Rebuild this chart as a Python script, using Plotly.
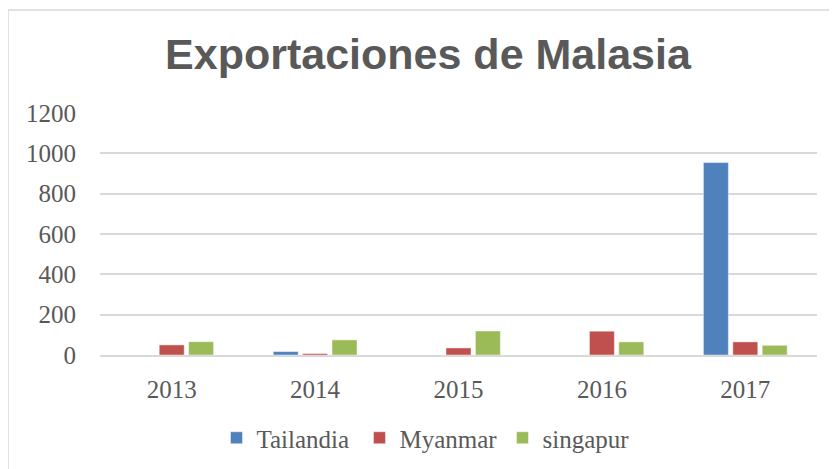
import plotly.graph_objects as go

years = ["2013", "2014", "2015", "2016", "2017"]
tailandia = [0, 17, 0, 0, 954]
myanmar = [50, 7, 35, 118, 65]
singapur = [66, 75, 119, 65, 48]
series_names = ["Tailandia", "Myanmar", "singapur"]
colors = ["#4F81BD", "#C0504D", "#9BBB59"]
y_ticks = [0, 200, 400, 600, 800, 1000, 1200]

# The page body has an 8px default margin, so the figure is drawn 8px smaller
# and all target page positions are shifted by OFF.
OFF = 8
W, H = 837 - OFF, 469 - OFF
L, R, T, B = 100 - OFF, 20, 113 - OFF, 469 - 355
text_color = "#595959"
serif = "Liberation Serif, Times New Roman, serif"

fig = go.Figure()
for name, vals, col in zip(series_names, [tailandia, myanmar, singapur], colors):
    fig.add_trace(go.Bar(
        x=years, y=vals, name=name,
        marker=dict(color=col, line=dict(color="rgba(255,255,255,0.45)", width=1)),
    ))

plot_w = W - L - R
plot_h = H - T - B
base_y = T + plot_h  # fig-pixel y of the zero line

fig.update_layout(
    width=W, height=H,
    margin=dict(l=L, r=R, t=T, b=B, autoexpand=False),
    paper_bgcolor="white", plot_bgcolor="white",
    barmode="group", bargap=0.385, bargroupgap=0.15,
    title=dict(
        text="<b>Exportaciones de Malasia</b>",
        font=dict(family="Liberation Sans, Arial, sans-serif", size=43, color=text_color),
        x=(428 - OFF) / W, xanchor="center", xref="container",
        y=1 - (54 - OFF) / H, yanchor="middle", yref="container",
    ),
    font=dict(family=serif, size=25, color=text_color),
    showlegend=True,
    legend=dict(
        orientation="h", x=(228 - 100) / plot_w - 0.03 + 10 / plot_w, xanchor="left",
        y=(base_y - (438 - OFF)) / plot_h, yanchor="middle",
        font=dict(family=serif, size=25, color=text_color),
        bgcolor="rgba(0,0,0,0)", traceorder="normal",
        itemwidth=30, entrywidth=98, entrywidthmode="pixels",
    ),
    xaxis=dict(
        type="category", showgrid=False, zeroline=False,
        showline=True, linecolor="#d9d9d9", linewidth=2,
        ticks="", ticklabelstandoff=11,
        tickfont=dict(family=serif, size=25, color=text_color),
    ),
    yaxis=dict(
        range=[0, 1200], tickvals=y_ticks,
        showgrid=True, gridcolor="#d9d9d9", gridwidth=1.5,
        zeroline=False, showline=False, ticks="",
        ticklabelstandoff=23,
        tickfont=dict(family=serif, size=25, color=text_color),
    ),
    shapes=[dict(
        type="rect", xref="paper", yref="paper",
        x0=(8 - OFF - L) / plot_w, x1=(W + 5 - L) / plot_w,
        y0=(base_y - (H + 5)) / plot_h, y1=(base_y - (10 - OFF)) / plot_h,
        line=dict(color="#d9d9d9", width=1.5), fillcolor="rgba(0,0,0,0)",
        layer="below",
    )],
)

fig.write_html("out.html")
